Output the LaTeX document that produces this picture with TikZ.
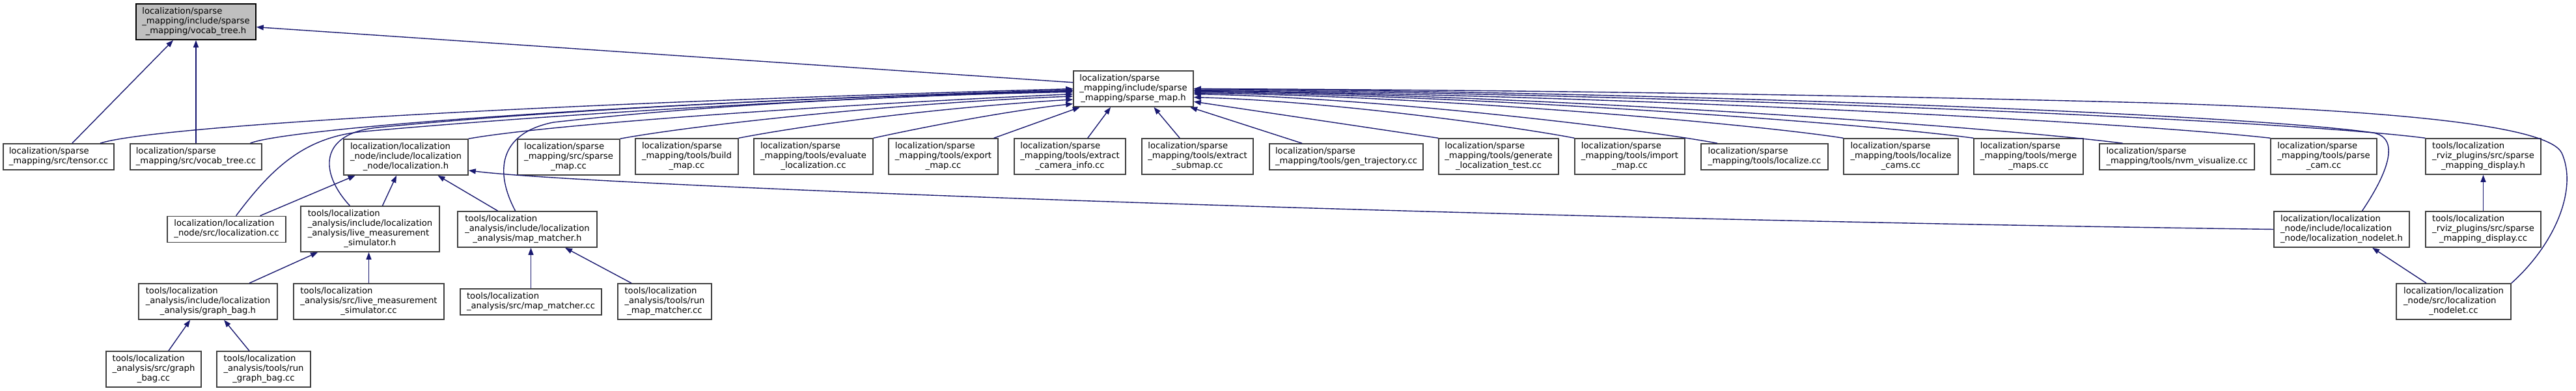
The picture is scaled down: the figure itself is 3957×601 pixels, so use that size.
\documentclass[tikz,border=0pt]{standalone}
\usepackage{fontspec}
\setmainfont{DejaVu Sans}
\usetikzlibrary{arrows.meta}

\definecolor{edgeblue}{HTML}{191970}
\definecolor{curfill}{HTML}{BFBFBF}
\definecolor{boxline}{HTML}{404040}

% label: all lines left-justified, the last one centred
\newcommand{\inclabel}[2]{\begin{tabular}{@{}l@{}}#1\\\multicolumn{1}{@{}c@{}}{#2}\end{tabular}}

\tikzset{
  filebox/.style={draw=boxline, line width=1.6pt, fill=white, inner sep=0pt,
    font=\fontsize{13.2}{15}\selectfont},
  curbox/.style={fill=curfill, draw=black},
  lines2/.style={minimum height=40},
  lines3/.style={minimum height=55},
  lines4/.style={minimum height=70},
  incl/.style={draw=edgeblue, line width=1.4pt, -{Triangle[length=11pt,width=8pt]}},
}

\begin{document}
\begin{tikzpicture}[x=1pt, y=-1pt]
    \useasboundingbox[fill=white] (0,0) rectangle (3957,601);

    % row 0 and 1
    \node[filebox, curbox, lines3, minimum width=184] (vocabh) at (301,33.5) {\inclabel{localization/sparse\\\_mapping/include/sparse}{\_mapping/vocab\_tree.h}};
    \node[filebox, lines3, minimum width=184] (spmaph) at (1741,136.5) {\inclabel{localization/sparse\\\_mapping/include/sparse}{\_mapping/sparse\_map.h}};

    % row 2
    \node[filebox, lines2, minimum width=170] (tensorcc) at (90,241) {\inclabel{localization/sparse}{\_mapping/src/tensor.cc}};
    \node[filebox, lines2, minimum width=202] (vocabcc) at (301,241) {\inclabel{localization/sparse}{\_mapping/src/vocab\_tree.cc}};
    \node[filebox, lines3, minimum width=191] (loch) at (623.5,241.5) {\inclabel{localization/localization\\\_node/include/localization}{\_node/localization.h}};
    \node[filebox, lines3, minimum width=157] (spmapcc) at (873.5,241.5) {\inclabel{localization/sparse\\\_mapping/src/sparse}{\_map.cc}};
    \node[filebox, lines3, minimum width=158] (buildcc) at (1055,240.5) {\inclabel{localization/sparse\\\_mapping/tools/build}{\_map.cc}};
    \node[filebox, lines3, minimum width=183] (evalcc) at (1249.5,240.5) {\inclabel{localization/sparse\\\_mapping/tools/evaluate}{\_localization.cc}};
    \node[filebox, lines3, minimum width=168] (exportcc) at (1449,240.5) {\inclabel{localization/sparse\\\_mapping/tools/export}{\_map.cc}};
    \node[filebox, lines3, minimum width=171] (camcc) at (1643.5,240.5) {\inclabel{localization/sparse\\\_mapping/tools/extract}{\_camera\_info.cc}};
    \node[filebox, lines3, minimum width=171] (submapcc) at (1839.5,240.5) {\inclabel{localization/sparse\\\_mapping/tools/extract}{\_submap.cc}};
    \node[filebox, lines2, minimum width=236] (gentrajcc) at (2068,241) {\inclabel{localization/sparse}{\_mapping/tools/gen\_trajectory.cc}};
    \node[filebox, lines3, minimum width=184] (gentestcc) at (2302,240.5) {\inclabel{localization/sparse\\\_mapping/tools/generate}{\_localization\_test.cc}};
    \node[filebox, lines3, minimum width=169] (importcc) at (2503.5,240.5) {\inclabel{localization/sparse\\\_mapping/tools/import}{\_map.cc}};
    \node[filebox, lines2, minimum width=195] (localizecc) at (2710.5,241) {\inclabel{localization/sparse}{\_mapping/tools/localize.cc}};
    \node[filebox, lines3, minimum width=176] (camscc) at (2920,240.5) {\inclabel{localization/sparse\\\_mapping/tools/localize}{\_cams.cc}};
    \node[filebox, lines3, minimum width=168] (mergecc) at (3116,240.5) {\inclabel{localization/sparse\\\_mapping/tools/merge}{\_maps.cc}};
    \node[filebox, lines2, minimum width=238] (nvmcc) at (3344,241) {\inclabel{localization/sparse}{\_mapping/tools/nvm\_visualize.cc}};
    \node[filebox, lines3, minimum width=163] (parsecc) at (3569.5,240.5) {\inclabel{localization/sparse\\\_mapping/tools/parse}{\_cam.cc}};
    \node[filebox, lines3, minimum width=177] (disph) at (3814.5,240.5) {\inclabel{tools/localization\\\_rviz\_plugins/src/sparse}{\_mapping\_display.h}};

    % row 3
    \node[filebox, lines2, minimum width=182] (loccc) at (348,352.5) {\inclabel{localization/localization}{\_node/src/localization.cc}};
    \node[filebox, lines4, minimum width=213] (livesimh) at (568.5,352) {\inclabel{tools/localization\\\_analysis/include/localization\\\_analysis/live\_measurement}{\_simulator.h}};
    \node[filebox, lines3, minimum width=214] (mmh) at (810,352.5) {\inclabel{tools/localization\\\_analysis/include/localization}{\_analysis/map\_matcher.h}};
    \node[filebox, lines3, minimum width=208] (nodeleth) at (3597,352.5) {\inclabel{localization/localization\\\_node/include/localization}{\_node/localization\_nodelet.h}};
    \node[filebox, lines3, minimum width=177] (dispcc) at (3814.5,352.5) {\inclabel{tools/localization\\\_rviz\_plugins/src/sparse}{\_mapping\_display.cc}};

    % row 4
    \node[filebox, lines3, minimum width=213] (gbagh) at (319.5,463.5) {\inclabel{tools/localization\\\_analysis/include/localization}{\_analysis/graph\_bag.h}};
    \node[filebox, lines3, minimum width=231] (livesimcc) at (566.5,463.5) {\inclabel{tools/localization\\\_analysis/src/live\_measurement}{\_simulator.cc}};
    \node[filebox, lines2, minimum width=217] (mmcc) at (815.5,464) {\inclabel{tools/localization}{\_analysis/src/map\_matcher.cc}};
    \node[filebox, lines3, minimum width=144] (runmmcc) at (1021,463.5) {\inclabel{tools/localization\\\_analysis/tools/run}{\_map\_matcher.cc}};
    \node[filebox, lines3, minimum width=176] (nodeletcc) at (3769,463.5) {\inclabel{localization/localization\\\_node/src/localization}{\_nodelet.cc}};

    % row 5
    \node[filebox, lines3, minimum width=146] (gbagcc) at (236,567.5) {\inclabel{tools/localization\\\_analysis/src/graph}{\_bag.cc}};
    \node[filebox, lines3, minimum width=144] (rungbagcc) at (405,567.5) {\inclabel{tools/localization\\\_analysis/tools/run}{\_graph\_bag.cc}};

    % includes of vocab_tree.h
    \draw[incl] (spmaph.174.7) -- (vocabh.-5.3);
    \draw[incl] (tensorcc.45) -- (vocabh.219.8);
    \draw[incl] (vocabcc.north) -- (vocabh.south);

    % includes of sparse_map.h, left side
    \draw[incl] (tensorcc.18.4) .. controls (230,195) and (800,160) .. (spmaph.180.9);
    \draw[incl] (vocabcc.14.9) .. controls (430,200) and (900,160) .. (spmaph.181.6);
    \draw[incl] (loccc.55.7) .. controls (420,255) and (470,210) .. (560,202) .. controls (900,172) and (1300,150) .. (spmaph.182.2);
    \draw[incl] (livesimh.131) .. controls (490,265) and (490,205) .. (580,196) .. controls (900,165) and (1300,148) .. (spmaph.182.8);
    \draw[incl] (mmh.123.2) .. controls (760,265) and (765,205) .. (850,188) .. controls (1100,160) and (1400,146) .. (spmaph.183.4);
    \draw[incl] (loch.north east) .. controls (850,190) and (1300,160) .. (spmaph.185.3);
    \draw[incl] (spmapcc.north east) .. controls (1050,195) and (1350,160) .. (spmaph.187.7);
    \draw[incl] (buildcc.north east) .. controls (1250,190) and (1450,165) .. (spmaph.190.8);
    \draw[incl] (evalcc.north east) .. controls (1420,195) and (1550,170) .. (spmaph.194.3);
    \draw[incl] (exportcc.20.4) -- (spmaph.199.4);
    \draw[incl] (camcc.46) -- (spmaph.219.8);
    \draw[incl] (submapcc.134) -- (spmaph.318.4);
    \draw[incl] (gentrajcc.163.6) -- (spmaph.342.6);

    % includes of sparse_map.h, right side
    \draw[incl] (gentestcc.north west) -- (spmaph.-12);
    \draw[incl] (importcc.north west) .. controls (2330,195) and (2040,155) .. (spmaph.-8.3);
    \draw[incl] (localizecc.164.6) .. controls (2520,198) and (2115,150) .. (spmaph.-5.9);
    \draw[incl] (camscc.north west) .. controls (2690,190) and (2190,147) .. (spmaph.-4);
    \draw[incl] (mergecc.north west) .. controls (2850,188) and (2255,146) .. (spmaph.-3.4);
    \draw[incl] (nvmcc.166.9) .. controls (3045,193) and (2335,145) .. (spmaph.-2.8);
    \draw[incl] (parsecc.north west) .. controls (3240,185) and (2415,144) .. (spmaph.-2.2);
    \draw[incl] (disph.north west) .. controls (3490,182) and (2500,143) .. (spmaph.-1.6);
    \draw[incl] (nodeleth.42.5) .. controls (3665,270) and (3690,212) .. (3645,204) .. controls (3450,176) and (2600,142) .. (spmaph.-0.9);
    \draw[incl] (nodeletcc.north east) .. controls (3925,375) and (3960,290) .. (3935,235) .. controls (3915,195) and (3700,170) .. (3300,158) .. controls (2800,145) and (2300,138) .. (spmaph.-0.3);

    % includes of localization.h
    \draw[incl] (loccc.22.7) -- (loch.200.5);
    \draw[incl] (livesimh.62.1) -- (loch.243.9);
    \draw[incl] (mmh.148.6) -- (loch.330);
    \draw[incl] (nodeleth.west) .. controls (2200,335) and (900,285) .. (loch.-12.7);

    % analysis headers
    \draw[incl] (gbagh.24.1) -- (livesimh.204.3);
    \draw[incl] (livesimcc.north) -- (livesimcc.north |- livesimh.south);
    \draw[incl] (mmcc.north) -- (mmcc.north |- mmh.south);
    \draw[incl] (runmmcc.151.7) -- (mmh.334.6);
    \draw[incl] (gbagcc.51.3) -- (gbagh.226);
    \draw[incl] (rungbagcc.128.7) -- (gbagh.311.7);

    % rviz plugin and nodelet
    \draw[incl] (dispcc.north) -- (disph.south);
    \draw[incl] (nodeletcc.146.8) -- (nodeleth.329.1);
\end{tikzpicture}
\end{document}
